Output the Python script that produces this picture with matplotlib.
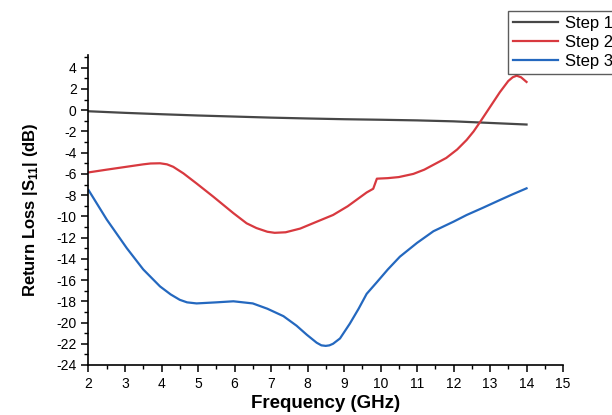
import numpy as np
import matplotlib
matplotlib.use('Agg')
import matplotlib.pyplot as plt
from matplotlib.ticker import MultipleLocator

plt.rcParams['font.family'] = ['Liberation Sans', 'DejaVu Sans']
plt.rcParams['mathtext.fontset'] = 'custom'
plt.rcParams['mathtext.bf'] = 'Liberation Sans:bold'
plt.rcParams['axes.unicode_minus'] = False

# Step 1
freq1 = [2, 3, 4, 5, 6, 7, 8, 9, 10, 11, 12, 13, 14]
s11_1 = [-0.1, -0.25, -0.38, -0.5, -0.6, -0.7, -0.78, -0.85, -0.9, -0.96, -1.05, -1.2, -1.35]

# Step 2
freq2 = [2.0, 2.5, 3.0, 3.5, 3.7, 3.96, 4.15, 4.32, 4.6, 4.96, 5.42, 5.97, 6.33, 6.6,
         6.9, 7.1, 7.4, 7.8, 8.15, 8.7, 9.1, 9.62, 9.8, 9.9, 10.2, 10.5, 10.9, 11.2,
         11.5, 11.8, 12.1, 12.36, 12.55, 12.73, 13.0, 13.27, 13.5, 13.62, 13.73,
         13.85, 14.0]
s11_2 = [-5.86, -5.6, -5.35, -5.1, -5.02, -5.0, -5.1, -5.33, -5.95, -6.9, -8.15, -9.7,
         -10.65, -11.1, -11.45, -11.55, -11.5, -11.15, -10.65, -9.87, -9.05, -7.75,
         -7.4, -6.45, -6.4, -6.3, -6.0, -5.6, -5.05, -4.5, -3.7, -2.8, -2.0, -1.1, 0.3,
         1.7, 2.75, 3.1, 3.25, 3.1, 2.66]

# Step 3
freq3 = [2.0, 2.5, 3.05, 3.5, 3.96, 4.25, 4.5, 4.7, 4.96, 5.5, 5.97, 6.5, 6.9, 7.34,
         7.7, 7.98, 8.25, 8.38, 8.5, 8.6, 8.7, 8.89, 9.16, 9.4, 9.62, 9.9, 10.2,
         10.53, 11.0, 11.45, 12.0, 12.36, 12.8, 13.27, 13.6, 14.0]
s11_3 = [-7.52, -10.3, -13.0, -15.0, -16.6, -17.35, -17.86, -18.1, -18.2, -18.1, -18.0,
         -18.2, -18.7, -19.4, -20.3, -21.15, -21.9, -22.15, -22.2, -22.15, -22.0, -21.5,
         -20.1, -18.7, -17.3, -16.2, -15.0, -13.8, -12.5, -11.4, -10.5, -9.87, -9.2,
         -8.46, -7.95, -7.36]

fig = plt.figure(figsize=(6.12, 4.15), dpi=100)
ax = fig.add_axes([0.1446, 0.1205, 0.7754, 0.747])

ax.plot(freq1, s11_1, color='#474747', lw=1.6, label='Step 1')
ax.plot(freq2, s11_2, color='#d8393f', lw=1.6, label='Step 2')
ax.plot(freq3, s11_3, color='#2468bf', lw=1.6, label='Step 3')

ax.set_xlim(2, 15)
ax.set_ylim(-24, 5.2)
ax.xaxis.set_major_locator(MultipleLocator(1))
ax.xaxis.set_minor_locator(MultipleLocator(0.5))
ax.yaxis.set_minor_locator(MultipleLocator(1))
ax.set_yticks(np.arange(-24, 5, 2))

ax.spines['top'].set_visible(False)
ax.spines['right'].set_visible(False)
for sp in ('left', 'bottom'):
    ax.spines[sp].set_linewidth(1.2)
ax.tick_params(which='major', direction='out', length=5, width=1.1, labelsize=10)
ax.tick_params(which='minor', direction='out', length=3, width=1.0)

ax.set_xlabel('Frequency (GHz)', fontsize=13.5, fontweight='bold', labelpad=3)
ax.set_ylabel(r'Return Loss |S$_{\mathbf{11}}$| (dB)', fontsize=12, fontweight='bold', labelpad=12)

leg = fig.legend(loc='upper left', bbox_to_anchor=(508 / 612, 1 - 11 / 415),
                 fontsize=12, frameon=True, fancybox=False, handlelength=2.7,
                 handletextpad=0.4, borderpad=0.3, labelspacing=0.25, borderaxespad=0)
leg.get_frame().set_edgecolor('#333333')
leg.get_frame().set_linewidth(1.0)

fig.savefig('out.png', dpi=100)
